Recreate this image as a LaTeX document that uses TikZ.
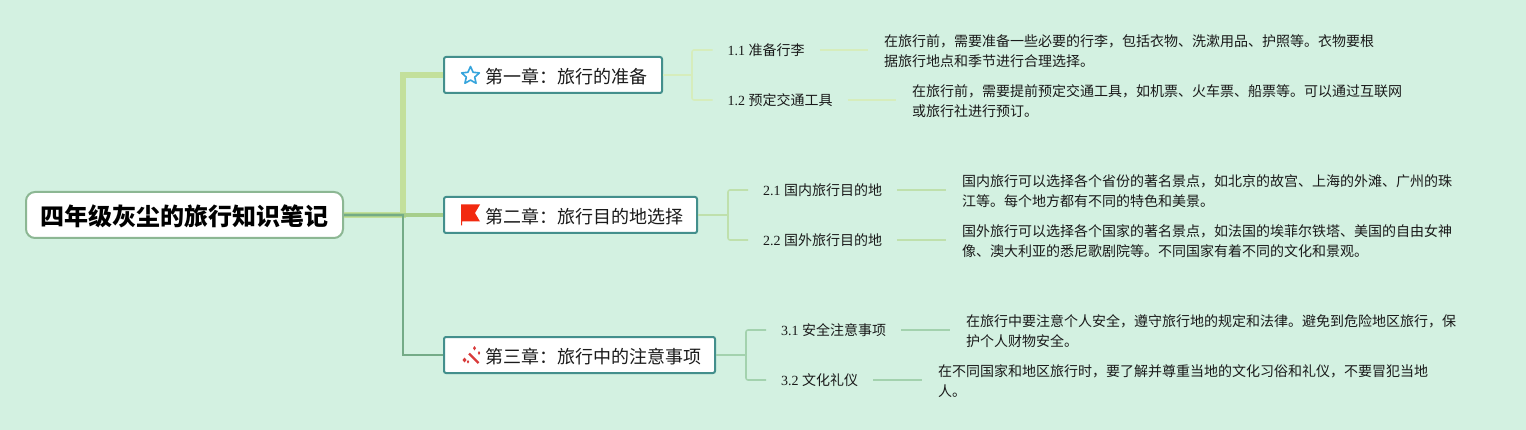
\documentclass[tikz,border=0pt]{standalone}
\usepackage{fontspec}
\setmainfont{Liberation Serif}
\newfontfamily\cjk{Noto Sans CJK SC}
\definecolor{bgc}{HTML}{D3F1E1}
\definecolor{rootedge}{HTML}{8CB793}
\definecolor{chapedge}{HTML}{438F8C}
\definecolor{linea}{HTML}{C3E09B}
\definecolor{lineb}{HTML}{A6CE8B}
\definecolor{linec}{HTML}{74AB87}
\definecolor{kida}{HTML}{D6EDBC}
\definecolor{kidb}{HTML}{BFE0AC}
\definecolor{kidc}{HTML}{A3D2AE}
\definecolor{txt}{HTML}{1A1A1A}
\definecolor{iconred}{HTML}{F22A10}
\definecolor{wandred}{HTML}{D93A3A}
\definecolor{iconblue}{HTML}{35A4DC}
\newcommand{\chaptext}[2]{\hspace*{41pt}\raisebox{0pt}[16.5pt][0pt]{#1}\hspace*{#2}}
\tikzset{
  rootbox/.style={draw=rootedge,line width=2pt,fill=white,rounded corners=9pt,anchor=west,minimum width=317pt,minimum height=46pt,inner sep=0pt,font=\cjk\bfseries\fontsize{24}{28}\selectfont,text=black},
  chapbox/.style={draw=chapedge,line width=2pt,fill=white,rounded corners=2pt,anchor=west,minimum height=36pt,inner sep=0pt,font=\cjk\fontsize{18}{22}\selectfont,text=txt},
  subnode/.style={anchor=west,inner xsep=12pt,inner ysep=2pt,font=\fontsize{14}{18}\selectfont,text=txt},
  detail/.style={anchor=west,inner xsep=14pt,inner ysep=0pt,align=left,font=\cjk\fontsize{14}{20}\selectfont,text=txt},
  conn/.style={rounded corners=2pt,line join=round,line width=1.6pt,shorten >=3pt},
  tail/.style={line width=1.6pt,shorten <=3pt,shorten >=2pt},
}
\begin{document}
\begin{tikzpicture}[x=1pt,y=-1pt]
\useasboundingbox (0,0) rectangle (1526,430);
\fill[bgc] (0,0) rectangle (1526,430);

\coordinate (jmain) at (403,215);
\coordinate (j1) at (692,75);
\coordinate (j2) at (728,215);
\coordinate (j3) at (746,355);

\node[rootbox] (root) at (25,215) {\raisebox{0pt}[20.2pt][0pt]{四年级灰尘的旅行知识笔记}};
\node[chapbox] (c1) at (443,75) {\chaptext{第一章：旅行的准备}{15pt}};
\node[chapbox] (c2) at (443,215) {\chaptext{第二章：旅行目的地选择}{14pt}};
\node[chapbox] (c3) at (443,355) {\chaptext{第三章：旅行中的注意事项}{14pt}};

\node[subnode] (s11) at (715.5,50) {1.1 {\cjk 准备行李}};
\node[subnode] (s12) at (715.5,100) {1.2 {\cjk 预定交通工具}};
\node[subnode] (s21) at (751,190) {2.1 {\cjk 国内旅行目的地}};
\node[subnode] (s22) at (751,240) {2.2 {\cjk 国外旅行目的地}};
\node[subnode] (s31) at (769,330) {3.1 {\cjk 安全注意事项}};
\node[subnode] (s32) at (769,380) {3.2 {\cjk 文化礼仪}};

\node[detail] (d11) at (870,51) {在旅行前，需要准备一些必要的行李，包括衣物、洗漱用品、护照等。衣物要根\\据旅行地点和季节进行合理选择。};
\node[detail] (d12) at (898,101) {在旅行前，需要提前预定交通工具，如机票、火车票、船票等。可以通过互联网\\或旅行社进行预订。};
\node[detail] (d21) at (948,191) {国内旅行可以选择各个省份的著名景点，如北京的故宫、上海的外滩、广州的珠\\江等。每个地方都有不同的特色和美景。};
\node[detail] (d22) at (948,241) {国外旅行可以选择各个国家的著名景点，如法国的埃菲尔铁塔、美国的自由女神\\像、澳大利亚的悉尼歌剧院等。不同国家有着不同的文化和景观。};
\node[detail] (d31) at (952,331) {在旅行中要注意个人安全，遵守旅行地的规定和法律。避免到危险地区旅行，保\\护个人财物安全。};
\node[detail] (d32) at (924,381) {在不同国家和地区旅行时，要了解并尊重当地的文化习俗和礼仪，不要冒犯当地\\人。};

% main branches
\draw[linea,line width=6pt,line join=miter] (root.east) -- (jmain) |- (c1.west);
\draw[lineb,line width=4pt] (root.east) -- (c2.west);
\draw[linec,line width=2pt,line join=miter] (root.east) -- (jmain) |- (c3.west);

% chapter children
\draw[kida,line width=1.6pt] (c1.east) -- (j1);
\draw[kida,conn] (j1) |- (s11.west);
\draw[kida,conn] (j1) |- (s12.west);
\draw[kidb,line width=1.6pt] (c2.east) -- (j2);
\draw[kidb,conn] (j2) |- (s21.west);
\draw[kidb,conn] (j2) |- (s22.west);
\draw[kidc,line width=1.6pt] (c3.east) -- (j3);
\draw[kidc,conn] (j3) |- (s31.west);
\draw[kidc,conn] (j3) |- (s32.west);

% sub to detail
\draw[kida,tail] (s11.east) -- (s11.east -| d11.west);
\draw[kida,tail] (s12.east) -- (s12.east -| d12.west);
\draw[kidb,tail] (s21.east) -- (s21.east -| d21.west);
\draw[kidb,tail] (s22.east) -- (s22.east -| d22.west);
\draw[kidc,tail] (s31.east) -- (s31.east -| d31.west);
\draw[kidc,tail] (s32.east) -- (s32.east -| d32.west);

% star icon
\draw[iconblue,line width=1.6pt,line join=round,fill=white]
  (470.5,66.5) -- (473.1,72.3) -- (479.4,72.9) -- (474.7,77.1) -- (476.1,83.3)
  -- (470.5,80.1) -- (464.9,83.3) -- (466.3,77.1) -- (461.6,72.9) -- (467.9,72.3) -- cycle;
% flag icon
\fill[iconred] (461,204.5) -- (480,204.5) -- (475,213) -- (480,221.5) -- (462.2,221.5) -- (462.2,225.5) -- (461,225.5) -- cycle;
% wand icon
\draw[wandred,line width=2.4pt] (469,353.5) -- (478.5,363);
\fill[wandred] (464.5,357.5) -- (466.5,360) -- (464.5,362.5) -- (462.5,360) -- cycle;
\fill[wandred] (474.5,346) -- (476,348.2) -- (474.5,350.4) -- (473,348.2) -- cycle;
\fill[wandred] (479,351) -- (480.2,353) -- (479,355) -- (477.8,353) -- cycle;
\fill[wandred] (468,360) -- (469.2,361.8) -- (468,363.6) -- (466.8,361.8) -- cycle;
\end{tikzpicture}
\end{document}
